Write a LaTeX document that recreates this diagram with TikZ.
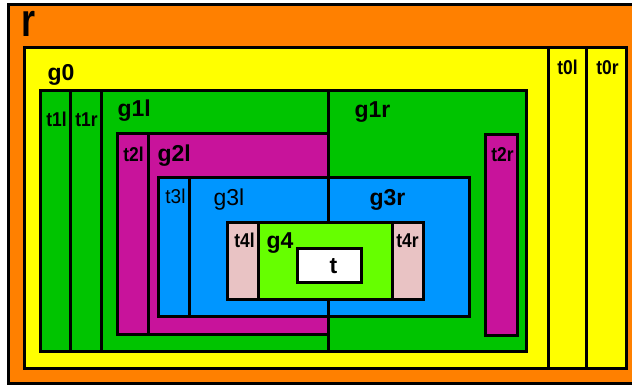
\documentclass[tikz,border=0pt]{standalone}
\usepackage{fontspec}
\setmainfont{Liberation Sans}
\usepackage{tikz}
\usetikzlibrary{positioning}
\definecolor{rootorange}{HTML}{FF8000}
\definecolor{gyellow}{HTML}{FFFF00}
\definecolor{ggreen}{HTML}{00C400}
\definecolor{gmagenta}{HTML}{C8139B}
\definecolor{gblue}{HTML}{0096FF}
\definecolor{glime}{HTML}{66FF00}
\definecolor{tpink}{HTML}{E9C3C4}

\begin{document}
\begin{tikzpicture}[x=1pt, y=-1pt, line width=3pt, line join=miter,
  box/.style={draw=black},
  lbl/.style={anchor=base west, inner sep=0pt, font=\bfseries\fontsize{23}{23}\selectfont},
  lblthin/.style={anchor=base west, inner sep=0pt, font=\fontsize{23}{23}\selectfont},
  tlbl/.style={anchor=base west, inner sep=0pt, font=\bfseries\fontsize{20}{20}\selectfont,
    xscale=0.87, transform shape},
  tlblthin/.style={anchor=base west, inner sep=0pt, font=\fontsize{20}{20}\selectfont,
    xscale=0.95, transform shape}]
  \useasboundingbox (0,0) rectangle (632,385);

  % ── root r ──
  \filldraw[fill=rootorange, box] (8,5) rectangle (640,383);
  \node[anchor=base west, inner sep=0pt, font=\bfseries\fontsize{36}{36}\selectfont]
    (r) at (20,37) {\scalebox{1}[1.3]{r}};

  % ── g0 with t0l / t0r ──
  \filldraw[fill=gyellow, box] (24,48) rectangle (626,368);
  \foreach \x in {548,586}
    \draw (\x,48) -- (\x,368);
  \node[lbl] (g0) at (46,81) {g0};
  \node[tlbl] (t0l) at (556,75) {t0l};
  \node[tlbl] (t0r) at (595,75) {t0r};

  % ── g1 with t1l / t1r ──
  \filldraw[fill=ggreen, box] (40,91) rectangle (526,351);
  \foreach \x in {70,101}
    \draw (\x,91) -- (\x,351);
  \node[tlbl] (t1l) at (45,127) {t1l};
  \node[tlbl] (t1r) at (74,127) {t1r};
  \node[lbl] (g1l) at (116,117) {g1l};
  \node[lbl] (g1r) at (353,118) {g1r};

  % ── g2 (left) and t2r ──
  \filldraw[fill=gmagenta, box] (117,134) rectangle (328,334);
  \draw (148,134) -- (148,334);
  \filldraw[fill=gmagenta, box] (485,135) rectangle (517,335);
  \node[tlbl] (t2l) at (122,161) {t2l};
  \node[lbl] (g2l) at (156,162) {g2l};
  \node[tlbl] (t2r) at (490,162) {t2r};

  % ── g3 with t3l ──
  \filldraw[fill=gblue, box] (158,178) rectangle (469,316);
  \draw (189,178) -- (189,316);
  \node[tlblthin] (t3l) at (164,204) {t3l};
  \node[lblthin] (g3l) at (212,205) {g3l};
  \node[lbl] (g3r) at (368,205) {g3r};

  % left / right split
  \draw (328,91) -- (328,351);

  % ── g4 with t4l / t4r ──
  \filldraw[fill=glime, box] (227,222) rectangle (423,299);
  \filldraw[fill=tpink, box] (227,222) rectangle (258,299);
  \filldraw[fill=tpink, box] (392,222) rectangle (423,299);
  \node[tlbl] (t4l) at (233,247) {t4l};
  \node[lbl] (g4) at (265,248) {g4};
  \node[tlbl] (t4r) at (395,247) {t4r};

  % ── target t ──
  \filldraw[fill=white, box] (297,248) rectangle (361,282);
  \node[lbl] (t) at (328,273) {t};
\end{tikzpicture}
\end{document}
